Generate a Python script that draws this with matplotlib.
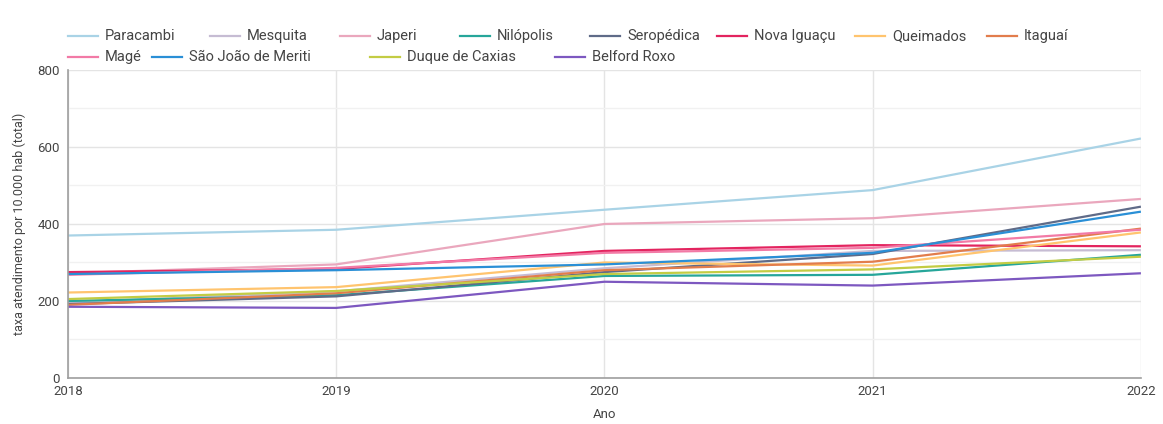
import matplotlib.pyplot as plt
from matplotlib.lines import Line2D
from matplotlib.ticker import MultipleLocator

plt.rcParams['font.family'] = ['Roboto', 'DejaVu Sans']

anos = [2018, 2019, 2020, 2021, 2022]

municipios = ['Paracambi', 'Mesquita', 'Japeri', 'Nilópolis', 'Seropédica',
              'Nova Iguaçu', 'Queimados', 'Itaguaí', 'Magé',
              'São João de Meriti', 'Duque de Caxias', 'Belford Roxo']

paracambi = [370, 385, 437, 488, 622]
mesquita = [196, 225, 285, 330, 332]
japeri = [272, 295, 400, 415, 465]
nilopolis = [200, 215, 265, 268, 320]
seropedica = [192, 212, 275, 322, 445]
nova_iguacu = [275, 283, 330, 345, 342]
queimados = [222, 236, 300, 292, 378]
itaguai = [190, 220, 280, 302, 388]
mage = [268, 286, 325, 338, 385]
sao_joao = [270, 280, 295, 325, 432]
duque_caxias = [205, 226, 270, 282, 315]
belford_roxo = [185, 182, 250, 240, 272]

series = [paracambi, mesquita, japeri, nilopolis, seropedica, nova_iguacu,
          queimados, itaguai, mage, sao_joao, duque_caxias, belford_roxo]

cores = ['#a9d3e6', '#c6bcd3', '#eaa7bd', '#26a69a', '#5f6b88', '#e3245f',
         '#ffc46e', '#e27d4c', '#f27aa6', '#2a8fd6', '#c3cc44', '#7d58c0']

fig = plt.figure(figsize=(11.63, 4.24), dpi=100)
ax = fig.add_axes([0.0585, 0.1085, 0.9225, 0.7265])

for valores, cor, nome in zip(series, cores, municipios):
    ax.plot(anos, valores, color=cor, lw=1.6, label=nome, solid_capstyle='butt')

ax.set_xlim(2018, 2022)
ax.set_ylim(0, 800)
ax.set_xticks(anos)
ax.yaxis.set_major_locator(MultipleLocator(200))
ax.yaxis.set_minor_locator(MultipleLocator(100))
ax.grid(which='major', axis='both', color='#e4e4e4', lw=1)
ax.grid(which='minor', axis='y', color='#f1f1f1', lw=1)
ax.set_axisbelow(True)

for lado in ['top', 'right']:
    ax.spines[lado].set_visible(False)
for lado in ['left', 'bottom']:
    ax.spines[lado].set_color('#9e9e9e')
    ax.spines[lado].set_linewidth(1.2)

ax.tick_params(axis='both', which='both', length=0, labelsize=9.5, colors='#444444')
ax.tick_params(axis='y', pad=6)
ax.tick_params(axis='x', pad=5)
ax.set_xlabel('Ano', fontsize=9.5, color='#444444', labelpad=7)
ax.set_ylabel('taxa atendimento por 10.000 hab (total)', fontsize=9, color='#444444', labelpad=8)

# legenda em fluxo, duas linhas no topo
pos_legenda = [(68, 36), (210, 36), (340, 36), (460, 36), (590, 36), (717, 36), (855, 36), (987, 36),
               (68, 57), (152, 57), (370, 57), (555, 57)]
W, H = 1163, 424
for (px, py), cor, nome in zip(pos_legenda, cores, municipios):
    y = 1 - py / H
    fig.add_artist(Line2D([px / W, (px + 30) / W], [y, y], color=cor, lw=1.6,
                          transform=fig.transFigure))
    fig.text((px + 37) / W, y, nome, fontsize=10.5, color='#444444', va='center', ha='left')

fig.savefig('out.png', dpi=100, facecolor='white')
